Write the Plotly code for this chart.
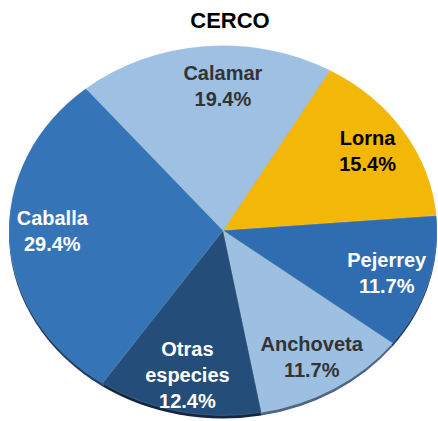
import plotly.graph_objects as go

# Catch composition for the purse-seine fleet (cerco), share of total
species = ["Lorna", "Pejerrey", "Anchoveta", "Otras<br>especies", "Caballa", "Calamar"]
shares = [15.4, 11.7, 11.7, 12.4, 29.4, 19.4]
slice_colors = ["#F2B707", "#2F6DB0", "#9CBFE2", "#244D79", "#3674B8", "#9DC0E3"]
rim_colors = ["#8A6A05", "#1C3F6A", "#4E6682", "#13263F", "#1E3F66", "#4E6682"]
label_colors = ["#000000", "#FFFFFF", "#333333", "#FFFFFF", "#FFFFFF", "#333333"]

W, H = 438, 421
CX, CY, R = 223, 230.5, 185       # pie centre and vertical radius, px
STRETCH = 214 / 185               # horizontal flattening of the tilted disc
FONT = "Liberation Sans, Arial, sans-serif"


def dom(dy=0):
    return dict(x=[(CX - R) / W, (CX + R) / W],
                y=[(H - CY - R - dy) / H, (H - CY + R - dy) / H])


common = dict(labels=species, values=shares, sort=False, direction="clockwise",
              rotation=30, showlegend=False)

fig = go.Figure()

# darker copy, dropped a few px, gives the disc its edge thickness
fig.add_trace(go.Pie(**common, domain=dom(3), textinfo="none", hoverinfo="skip",
                     marker=dict(colors=rim_colors, line=dict(width=0))))

# coloured slices
fig.add_trace(go.Pie(**common, domain=dom(), textinfo="none", hoverinfo="label+percent",
                     marker=dict(colors=slice_colors,
                                 line=dict(color="rgba(255,255,255,0.25)", width=0.5))))

# transparent ring carries the labels, centred at 0.8 of the radius
fig.add_trace(go.Pie(**common, domain=dom(), hole=0.6, hoverinfo="skip",
                     marker=dict(colors=["rgba(0,0,0,0)"] * len(shares), line=dict(width=0)),
                     texttemplate="<b>%{label}</b><br><b>%{value:.1f}%</b>",
                     textposition="inside", insidetextorientation="horizontal",
                     textfont=dict(family=FONT, size=20, color=label_colors)))

fig.update_layout(
    width=W,
    height=H,
    margin=dict(l=0, r=0, t=0, b=0),
    paper_bgcolor="white",
    plot_bgcolor="white",
    uniformtext=dict(minsize=20, mode="show"),
    title=dict(text="<b>CERCO</b>", x=230 / W, xanchor="center",
               y=1 - 20 / H, yanchor="middle",
               font=dict(family=FONT, size=22, color="#000000")),
)

# stretch the discs horizontally into an ellipse and slide the labels with them
post = """
var gd = document.getElementById('{plot_id}');
var SX = %f;
function flatten() {
  var cx = gd.calcdata[1][0].cx;
  gd.querySelectorAll('g.slice path.surface').forEach(function (p) {
    p.setAttribute('transform',
      'translate(' + cx + ',0) scale(' + SX + ',1) translate(' + (-cx) + ',0)');
  });
  gd.querySelectorAll('g.slicetext').forEach(function (g) {
    g.removeAttribute('transform');
    var bb = g.getBBox();
    var mx = bb.x + bb.width / 2;
    g.setAttribute('transform', 'translate(' + ((SX - 1) * (mx - cx)) + ',0)');
  });
}
flatten();
gd.on('plotly_afterplot', flatten);
""" % STRETCH

fig.write_html("out.html", post_script=post)
